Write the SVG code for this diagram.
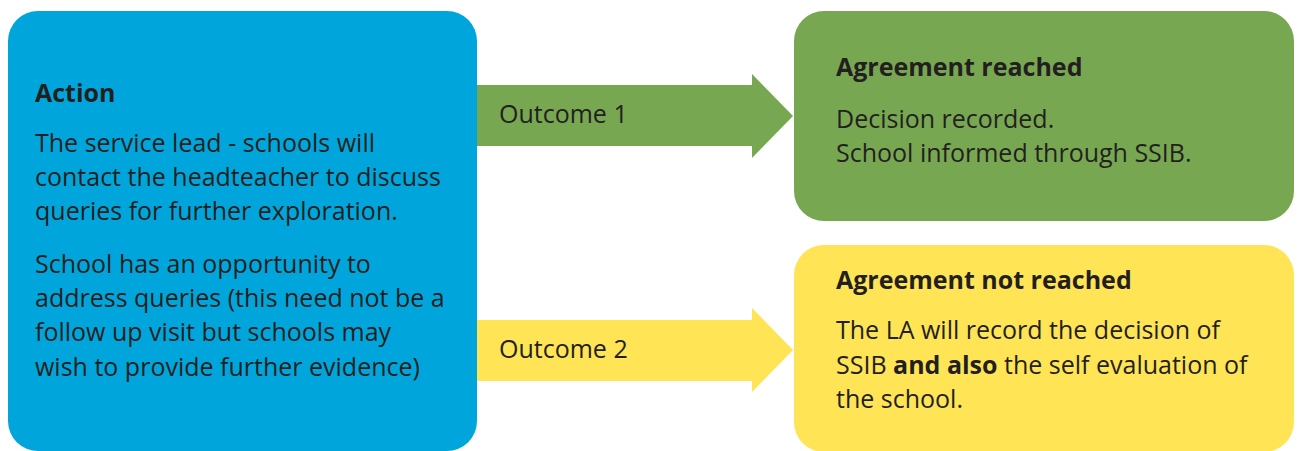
<svg xmlns="http://www.w3.org/2000/svg" width="1302" height="451" viewBox="0 0 1302 451">
<style>
text{font-family:"Open Sans","Noto Sans","Liberation Sans",sans-serif;font-size:25px;fill:#231F20}
.b{font-weight:bold}
</style>
<rect width="1302" height="451" fill="#ffffff"/>
<g id="connectors">
<polygon id="arrow1" points="477,85 752,85 752,74 793,116 752,158 752,146 477,146" fill="#78A751"/>
<polygon id="arrow2" points="477,320 752,320 752,308 793,350 752,392 752,381 477,381" fill="#FFE455"/>
<text x="499" y="123">Outcome 1</text>
<text x="499" y="358">Outcome 2</text>
</g>
<g id="action">
<rect x="8" y="11" width="469" height="440" rx="30" fill="#00A6DB"/>
<text class="b" x="35" y="102">Action</text>
<text x="35" y="152">The service lead - schools will</text>
<text x="35" y="186">contact the headteacher to discuss</text>
<text x="35" y="220">queries for further exploration.</text>
<text x="35" y="273">School has an opportunity to</text>
<text x="35" y="307">address queries (this need not be a</text>
<text x="35" y="341">follow up visit but schools may</text>
<text x="35" y="376">wish to provide further evidence)</text>
</g>
<g id="agreement-reached">
<rect x="794" y="11" width="500" height="210" rx="30" fill="#78A751"/>
<text class="b" x="836" y="76">Agreement reached</text>
<text x="836" y="128">Decision recorded.</text>
<text x="836" y="162">School informed through SSIB.</text>
</g>
<g id="agreement-not-reached">
<rect x="794" y="245" width="500" height="207" rx="30" fill="#FFE455"/>
<text class="b" x="836" y="289">Agreement not reached</text>
<text x="836" y="339">The LA will record the decision of</text>
<text x="836" y="374">SSIB <tspan class="b">and also</tspan> the self evaluation of</text>
<text x="836" y="408">the school.</text>
</g>
</svg>
